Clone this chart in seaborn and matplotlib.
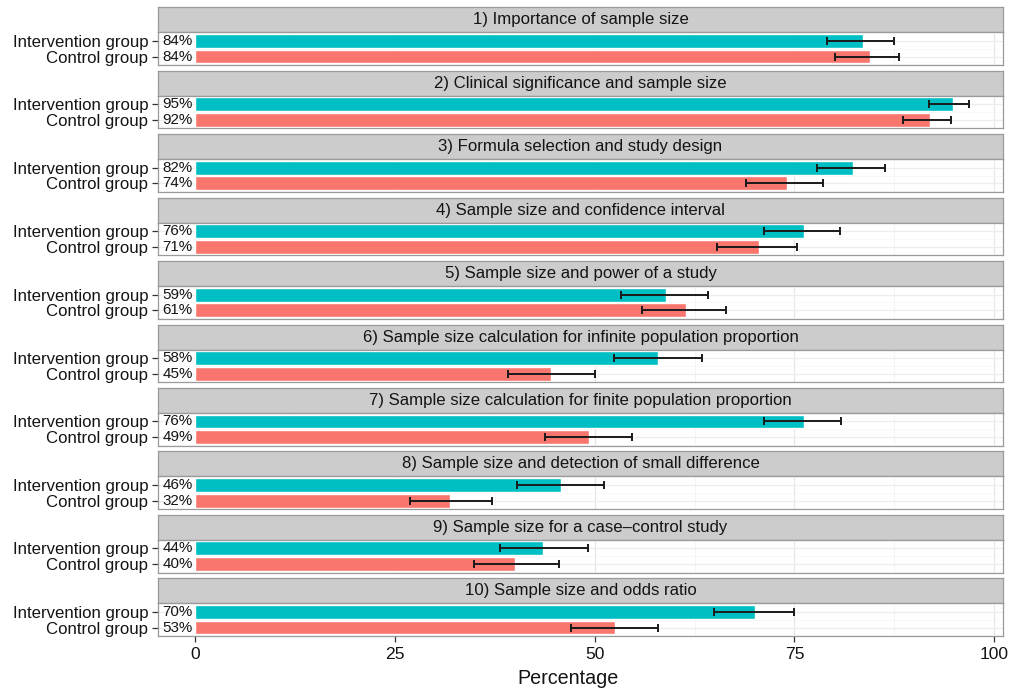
import matplotlib
matplotlib.use("Agg")
import matplotlib.pyplot as plt
import seaborn as sns
import pandas as pd

# Survey items and share of correct answers per group (percent)
questions = [
    "1) Importance of sample size",
    "2) Clinical significance and sample size",
    "3) Formula selection and study design",
    "4) Sample size and confidence interval",
    "5) Sample size and power of a study",
    "6) Sample size calculation for infinite population proportion",
    "7) Sample size calculation for finite population proportion",
    "8) Sample size and detection of small difference",
    "9) Sample size for a case\u2013control study",
    "10) Sample size and odds ratio",
]
groups = ["Intervention group", "Control group"]

intervention_pct = [83.6, 94.8, 82.3, 76.2, 58.9, 57.9, 76.2, 45.8, 43.6, 70.1]
intervention_lo = [79.1, 91.9, 77.8, 71.2, 53.3, 52.4, 71.2, 40.3, 38.2, 64.9]
intervention_hi = [87.4, 96.9, 86.3, 80.7, 64.2, 63.4, 80.8, 51.2, 49.2, 75.0]

control_pct = [84.4, 92.0, 74.1, 70.6, 61.4, 44.6, 49.3, 31.9, 40.1, 52.6]
control_lo = [80.1, 88.6, 69.0, 65.3, 55.9, 39.2, 43.8, 26.9, 34.9, 47.1]
control_hi = [88.1, 94.6, 78.6, 75.3, 66.5, 50.0, 54.7, 37.2, 45.6, 57.9]

x_ticks = [0, 25, 50, 75, 100]

sns.set_theme(style="white")
plt.rcParams["font.family"] = ["Liberation Sans", "DejaVu Sans"]

palette = {"Intervention group": "#00BFC4", "Control group": "#F8766D"}

W, H = 1010, 690
fig = plt.figure(figsize=(W / 100, H / 100), dpi=100)

left_px, right_px = 158, 1003
strip_h, panel_h, pitch = 25.0, 32.7, 63.45
top0 = 7.3

for i, q in enumerate(questions):
    strip_top = top0 + pitch * i
    panel_top = strip_top + strip_h
    # strip header
    sax = fig.add_axes([left_px / W, 1 - panel_top / H, (right_px - left_px) / W, strip_h / H])
    sax.set_facecolor("#CCCCCC")
    sax.set_xticks([])
    sax.set_yticks([])
    for s in sax.spines.values():
        s.set_color("#9A9A9A")
        s.set_linewidth(0.9)
    sax.text(0.5, 0.5, q, ha="center", va="center", fontsize=12.1, color="#141414",
             transform=sax.transAxes)

    # data panel
    ax = fig.add_axes([left_px / W, 1 - (panel_top + panel_h) / H,
                       (right_px - left_px) / W, panel_h / H])
    df = pd.DataFrame({
        "group": groups,
        "pct": [intervention_pct[i], control_pct[i]],
        "lo": [intervention_lo[i], control_lo[i]],
        "hi": [intervention_hi[i], control_hi[i]],
    })
    ax.set_axisbelow(True)
    for xv in x_ticks:
        ax.axvline(xv, color="#E6E6E6", lw=0.9, zorder=0)
    for xv in [12.5, 37.5, 62.5, 87.5]:
        ax.axvline(xv, color="#F3F3F3", lw=0.6, zorder=0)
    for yv in [0, 1]:
        ax.axhline(yv, color="#EDEDED", lw=0.9, zorder=0)
    for yv in [-0.5, 0.5, 1.5]:
        ax.axhline(yv, color="#F6F6F6", lw=0.5, zorder=0)

    sns.barplot(data=df, x="pct", y="group", hue="group", order=groups,
                palette=palette, errorbar=None, width=0.88, saturation=1,
                legend=False, ax=ax, zorder=2)
    ax.errorbar(df["pct"], [0, 1],
                xerr=[df["pct"] - df["lo"], df["hi"] - df["pct"]],
                fmt="none", ecolor="#1a1a1a", elinewidth=1.4, capsize=3,
                capthick=1.4, zorder=3)
    for yi, v in enumerate(df["pct"]):
        ax.text(-0.3, yi, f"{round(v)}%", ha="right", va="center",
                fontsize=10.9, color="#141414", zorder=4)

    ax.set_xlim(-4.63, 101.1)
    ax.set_ylim(1.54, -0.54)
    ax.set_xlabel("")
    ax.set_ylabel("")
    ax.tick_params(axis="y", length=4, width=0.9, color="#333333", pad=3,
                   labelsize=12.1, labelcolor="#141414", left=True)
    for s in ax.spines.values():
        s.set_color("#9A9A9A")
        s.set_linewidth(0.9)
    ax.set_xticks(x_ticks)
    if i == len(questions) - 1:
        ax.tick_params(axis="x", length=4, width=0.9, color="#333333", pad=4,
                       labelsize=12.6, labelcolor="#141414", bottom=True)
        ax.set_xticklabels([str(t) for t in x_ticks])
    else:
        ax.tick_params(axis="x", bottom=False, labelbottom=False)

fig.text(568 / W, 1 - 678 / H, "Percentage", ha="center", va="center",
         fontsize=14.2, color="#141414")

fig.savefig("out.png", dpi=100, facecolor="white")
